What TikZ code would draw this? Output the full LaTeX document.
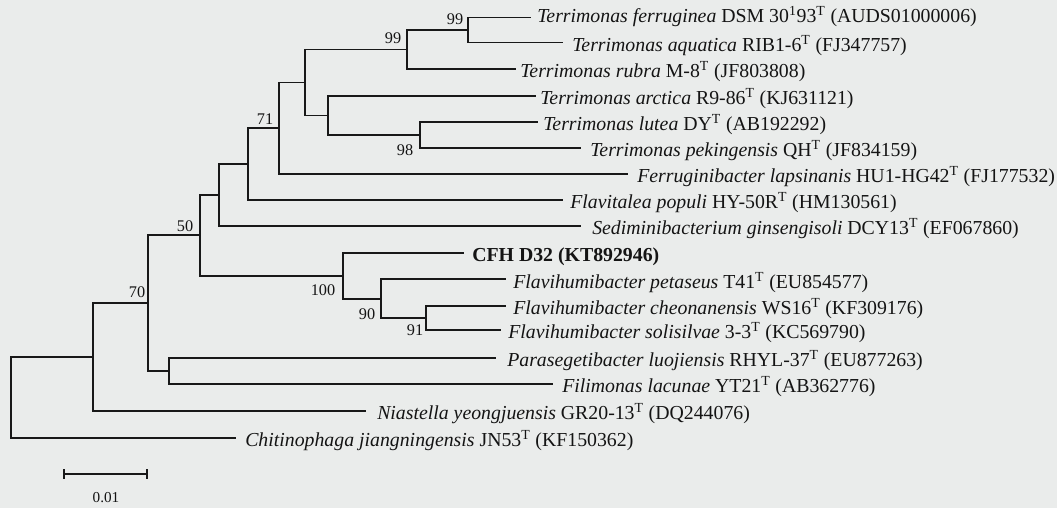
\documentclass[tikz,border=0pt]{standalone}
\usepackage{fontspec}
\setmainfont{Liberation Serif}
\definecolor{bgc}{RGB}{234,236,235}
\definecolor{linec}{RGB}{24,24,24}
\definecolor{txtc}{RGB}{20,20,20}
\begin{document}
\begin{tikzpicture}[x=0.75pt,y=-0.75pt,
  br/.style={line width=1.25pt, draw=linec, line cap=rect},
  leaf/.style={anchor=base west, inner sep=0pt, text=txtc, font=\fontsize{14.85}{16}\selectfont},
  bs/.style={inner sep=0pt, text=txtc, font=\fontsize{12.2}{14}\selectfont}]
\fill[bgc] (0,0) rectangle (1057,508);
\useasboundingbox (0,0) rectangle (1057,508);
% internal nodes
\coordinate (A) at (468,30);
\coordinate (B) at (407,49.5);
\coordinate (E) at (420,135);
\coordinate (D) at (328,115.5);
\coordinate (C) at (305,82.5);
\coordinate (F) at (279,128);
\coordinate (G) at (248,164);
\coordinate (H) at (219,195);
\coordinate (P) at (426,318);
\coordinate (O) at (381,298.7);
\coordinate (N) at (343,275.7);
\coordinate (I) at (200,235);
\coordinate (L) at (169,371.3);
\coordinate (K) at (148,303);
\coordinate (M) at (93,357);
\coordinate (R) at (11,357);
% leaf ends
\coordinate (e1) at (530,17.5);
\coordinate (e2) at (562,42.5);
\coordinate (e3) at (515,69);
\coordinate (e4) at (535,96);
\coordinate (e5) at (537,122);
\coordinate (e6) at (580,148);
\coordinate (e7) at (627,174);
\coordinate (e8) at (562,200);
\coordinate (e9) at (580,226);
\coordinate (e10) at (463,252.7);
\coordinate (e11) at (505,279.3);
\coordinate (e12) at (505,306);
\coordinate (e13) at (500,330);
\coordinate (e14) at (495,358.3);
\coordinate (e15) at (552,384.3);
\coordinate (e16) at (365,410.7);
\coordinate (e17) at (235,438.3);
% branches
\draw[br] (A) |- (e1); \draw[br] (A) |- (e2);
\draw[br] (B) |- (A); \draw[br] (B) |- (e3);
\draw[br] (E) |- (e5); \draw[br] (E) |- (e6);
\draw[br] (D) |- (e4); \draw[br] (D) |- (E);
\draw[br] (C) |- (B); \draw[br] (C) |- (D);
\draw[br] (F) |- (C); \draw[br] (F) |- (e7);
\draw[br] (G) |- (F); \draw[br] (G) |- (e8);
\draw[br] (H) |- (G); \draw[br] (H) |- (e9);
\draw[br] (P) |- (e12); \draw[br] (P) |- (e13);
\draw[br] (O) |- (e11); \draw[br] (O) |- (P);
\draw[br] (N) |- (e10); \draw[br] (N) |- (O);
\draw[br] (I) |- (H); \draw[br] (I) |- (N);
\draw[br] (L) |- (e14); \draw[br] (L) |- (e15);
\draw[br] (K) |- (I); \draw[br] (K) |- (L);
\draw[br] (M) |- (K); \draw[br] (M) |- (e16);
\draw[br] (R) |- (M); \draw[br] (R) |- (e17);
% leaf labels
\node[leaf] (t1) at (537,22) {\textit{Terrimonas ferruginea} DSM 30\textsuperscript{1}93\textsuperscript{T} (AUDS01000006)};
\node[leaf] (t2) at (572,51.5) {\textit{Terrimonas aquatica} RIB1-6\textsuperscript{T} (FJ347757)};
\node[leaf] (t3) at (520,77.5) {\textit{Terrimonas rubra} M-8\textsuperscript{T} (JF803808)};
\node[leaf] (t4) at (540,104.5) {\textit{Terrimonas arctica} R9-86\textsuperscript{T} (KJ631121)};
\node[leaf] (t5) at (543,130.5) {\textit{Terrimonas lutea} DY\textsuperscript{T} (AB192292)};
\node[leaf] (t6) at (590,156.5) {\textit{Terrimonas pekingensis} QH\textsuperscript{T} (JF834159)};
\node[leaf] (t7) at (637,182.5) {\textit{Ferruginibacter lapsinanis} HU1-HG42\textsuperscript{T} (FJ177532)};
\node[leaf] (t8) at (570,208.5) {\textit{Flavitalea populi} HY-50R\textsuperscript{T} (HM130561)};
\node[leaf] (t9) at (592,234.5) {\textit{Sediminibacterium ginsengisoli} DCY13\textsuperscript{T} (EF067860)};
\node[leaf] (t10) at (472,261.5) {\textbf{CFH D32 (KT892946)}};
\node[leaf] (t11) at (513,288) {\textit{Flavihumibacter petaseus} T41\textsuperscript{T} (EU854577)};
\node[leaf] (t12) at (513,314.5) {\textit{Flavihumibacter cheonanensis} WS16\textsuperscript{T} (KF309176)};
\node[leaf] (t13) at (508,338.5) {\textit{Flavihumibacter solisilvae} 3-3\textsuperscript{T} (KC569790)};
\node[leaf] (t14) at (507,366.5) {\textit{Parasegetibacter luojiensis} RHYL-37\textsuperscript{T} (EU877263)};
\node[leaf] (t15) at (562,392.5) {\textit{Filimonas lacunae} YT21\textsuperscript{T} (AB362776)};
\node[leaf] (t16) at (377,419) {\textit{Niastella yeongjuensis} GR20-13\textsuperscript{T} (DQ244076)};
\node[leaf] (t17) at (245,446.5) {\textit{Chitinophaga jiangningensis} JN53\textsuperscript{T} (KF150362)};
% bootstrap values
\node[bs] (b1) at (455,19) {99};
\node[bs] (b2) at (393,38) {99};
\node[bs] (b3) at (405,150) {98};
\node[bs] (b4) at (265,119) {71};
\node[bs] (b5) at (185,226) {50};
\node[bs] (b6) at (137,292) {70};
\node[bs] (b7) at (323,290) {100};
\node[bs] (b8) at (367,314) {90};
\node[bs] (b9) at (415,330) {91};
% scale bar
\coordinate (s1) at (64,474);
\coordinate (s2) at (147,474);
\coordinate (s1a) at (64,469.5);
\coordinate (s1b) at (64,478.5);
\coordinate (s2a) at (147,469.5);
\coordinate (s2b) at (147,478.5);
\draw[br] (s1) -- (s2);
\draw[br] (s1a) -- (s1b);
\draw[br] (s2a) -- (s2b);
\node[bs, font=\fontsize{11.4}{13}\selectfont] (sc) at (106,498) {0.01};
\end{tikzpicture}
\end{document}
